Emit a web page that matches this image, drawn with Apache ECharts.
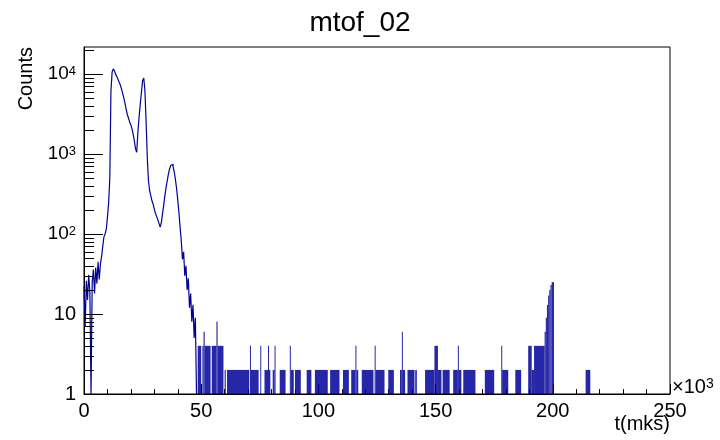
<!DOCTYPE html>
<html>
<head>
<meta charset="utf-8">
<script src="https://cdn.jsdelivr.net/npm/echarts@6/dist/echarts.min.js"></script>
<style>
  html, body { margin: 0; padding: 0; background: #fff; }
  #chart { width: 720px; height: 440px; }
</style>
</head>
<body>
<div id="chart"></div>
<script>
// mtof_02: time-of-flight histogram, t in units of 10^3 mks
const histTitle = 'mtof_02';
const xTitle = 't(mks)';
const yTitle = 'Counts';

// Prompt region, 0.5 x10^3 mks bins starting at t = 0
const binWidth = 0.5;
const mainStart = 0;
const mainCounts = [
  22, 7, 26, 15, 31, 19, 1, 25, 36, 18, 38, 24, 45, 27, 42, 52,
  70, 92, 100, 115, 160, 245, 490, 6200, 10600, 11600, 10900, 9900, 9300, 8600,
  7900, 7300, 6500, 5700, 5000, 4300, 3600, 3100, 2800, 2500, 2300, 2050, 1750, 1450,
  1150, 1050, 1900, 2900, 4200, 5900, 8300, 8900, 6100, 2500, 900, 460, 350, 300,
  260, 235, 205, 180, 165, 150, 135, 122, 140, 180, 230, 300, 380, 460, 560, 650,
  720, 745, 690, 600, 480, 370, 265, 185, 122, 82, 48, 60, 30, 40, 20, 28,
  12, 18, 8, 13, 5, 9
];

// Sparse late part of the spectrum: [from, to, counts]
const tailBins = [
  [48.5, 50.0, 4], [50.5, 51.0, 4], [51.0, 51.5, 6], [51.5, 54.0, 4],
  [54.5, 56.5, 4], [56.5, 57.0, 8], [57.0, 59.5, 4], [60.0, 60.5, 2],
  [61.0, 70.5, 2], [70.8, 71.2, 4], [71.2, 74.5, 2], [75.2, 75.6, 4],
  [77.0, 78.5, 2], [78.5, 78.9, 4], [78.9, 79.5, 2], [80.5, 81.3, 2],
  [81.3, 81.7, 4], [83.5, 86.0, 2], [87.8, 88.2, 4], [88.2, 89.5, 2],
  [90.0, 92.5, 2], [95.0, 97.0, 2], [98.5, 104.0, 2], [105.0, 109.0, 2],
  [110.5, 113.0, 2], [114.0, 115.8, 2], [115.8, 116.2, 4], [116.2, 117.0, 2],
  [118.5, 123.5, 2], [124.0, 124.4, 4], [124.4, 128.2, 2], [129.8, 132.2, 2],
  [134.8, 135.6, 2], [135.6, 136.0, 6], [136.0, 137.0, 2], [138.0, 141.0, 2],
  [141.3, 142.0, 2], [145.5, 149.5, 2], [149.5, 151.0, 4], [151.0, 152.5, 2],
  [153.0, 156.0, 2], [157.5, 159.5, 2], [159.5, 159.9, 4], [159.9, 161.0, 2],
  [161.8, 167.0, 2], [171.0, 175.0, 2], [178.0, 178.4, 4], [178.4, 181.0, 2],
  [184.0, 186.5, 2], [189.5, 191.0, 4], [191.0, 192.0, 2], [192.0, 196.5, 4],
  [196.5, 197.0, 6], [197.0, 197.5, 9], [197.5, 198.0, 13], [198.0, 198.5, 17],
  [198.5, 199.0, 20], [199.0, 199.5, 23], [199.5, 200.5, 25], [214.0, 216.0, 2]
];

// Log axis tick marks (2..9 per decade plus the decades)
const yTickValues = [
  1, 2, 3, 4, 5, 6, 7, 8, 9,
  10, 20, 30, 40, 50, 60, 70, 80, 90,
  100, 200, 300, 400, 500, 600, 700, 800, 900,
  1000, 2000, 3000, 4000, 5000, 6000, 7000, 8000, 9000,
  10000, 20000
];

const xMin = 0, xMax = 250, xStep = 50;
const yMin = 1, yMax = 21750;
const histColor = '#000099';
const FONT = '"Liberation Sans", Arial, Helvetica, sans-serif';

// Step outline for the prompt region; empty bins sit on the log floor
const mainData = mainCounts.map((c, i) => [mainStart + i * binWidth, Math.max(c, yMin)]);
mainData.push([mainStart + mainCounts.length * binWidth, yMin]);

const chart = echarts.init(document.getElementById('chart'), null, { renderer: 'canvas' });

chart.setOption({
  animation: false,
  backgroundColor: '#fff',
  title: {
    text: histTitle,
    left: 'center',
    top: 4,
    textStyle: { fontFamily: FONT, fontWeight: 'normal', fontSize: 28, color: '#000' }
  },
  grid: {
    left: 84, right: 50, top: 47, bottom: 46,
    show: true, borderColor: '#000', borderWidth: 1, backgroundColor: '#fff'
  },
  xAxis: {
    type: 'value',
    min: xMin, max: xMax, interval: xStep,
    axisLine: { show: true, lineStyle: { color: '#000', width: 1 } },
    axisTick: { show: true, inside: true, length: 10, lineStyle: { color: '#000' } },
    minorTick: { show: true, splitNumber: 5, length: 5, lineStyle: { color: '#000' } },
    splitLine: { show: false },
    axisLabel: { fontFamily: FONT, fontSize: 20, color: '#000', margin: 7 }
  },
  yAxis: {
    type: 'log',
    logBase: 10,
    min: yMin, max: yMax,
    axisLine: { show: true, lineStyle: { color: '#000', width: 1 } },
    axisTick: { show: false },
    splitLine: { show: false },
    axisLabel: {
      margin: 8,
      color: '#000',
      showMaxLabel: false,
      formatter: function (v) {
        const l = Math.log10(v);
        const e = Math.round(l);
        if (Math.abs(l - e) > 1e-6) return '';
        if (e === 0) return '{p|1}';
        if (e === 1) return '{p|10}';
        return '{b|10}{e|' + e + '}';
      },
      rich: {
        p: { fontFamily: FONT, fontSize: 20, color: '#000' },
        b: { fontFamily: FONT, fontSize: 19, color: '#000' },
        e: { fontFamily: FONT, fontSize: 13, color: '#000', verticalAlign: 'top' }
      }
    }
  },
  graphic: [
    {
      type: 'text', x: 26, y: 47, rotation: Math.PI / 2,
      style: { text: yTitle, font: '20px ' + FONT, fill: '#000', align: 'right', verticalAlign: 'middle' }
    },
    {
      type: 'text', x: 670, y: 414,
      style: { text: xTitle, font: '20px ' + FONT, fill: '#000', align: 'right', verticalAlign: 'top' }
    },
    {
      type: 'text', x: 672, y: 397,
      style: {
        text: '{b|\u00d710}{e|3}',
        verticalAlign: 'bottom',
        rich: {
          b: { fontFamily: FONT, fontSize: 20, color: '#000' },
          e: { fontFamily: FONT, fontSize: 14, color: '#000', verticalAlign: 'top' }
        }
      }
    }
  ],
  series: [
    {
      name: 'prompt',
      type: 'line',
      step: 'end',
      data: mainData,
      showSymbol: false,
      lineStyle: { color: histColor, width: 1.2 },
      z: 3
    },
    {
      name: 'tail',
      type: 'custom',
      data: tailBins,
      encode: { x: [0, 1], y: 2 },
      renderItem: function (params, api) {
        const a = api.coord([api.value(0), api.value(2)]);
        const b = api.coord([api.value(1), yMin]);
        return {
          type: 'rect',
          shape: { x: a[0], y: a[1], width: Math.max(b[0] - a[0], 1), height: b[1] - a[1] },
          style: { fill: histColor, opacity: 0.85 }
        };
      },
      z: 2
    },
    {
      name: 'yticks',
      type: 'custom',
      data: yTickValues.map(v => [xMin, v]),
      encode: { x: 0, y: 1 },
      silent: true,
      renderItem: function (params, api) {
        const v = api.value(1);
        const p = api.coord([xMin, v]);
        const l = Math.log10(v);
        const major = Math.abs(l - Math.round(l)) < 1e-6;
        const y = Math.round(p[1]) + 0.5;
        return {
          type: 'line',
          shape: { x1: p[0], y1: y, x2: p[0] + (major ? 19 : 10), y2: y },
          style: { stroke: '#000', lineWidth: 1 }
        };
      },
      z: 4
    }
  ]
});
</script>
</body>
</html>
